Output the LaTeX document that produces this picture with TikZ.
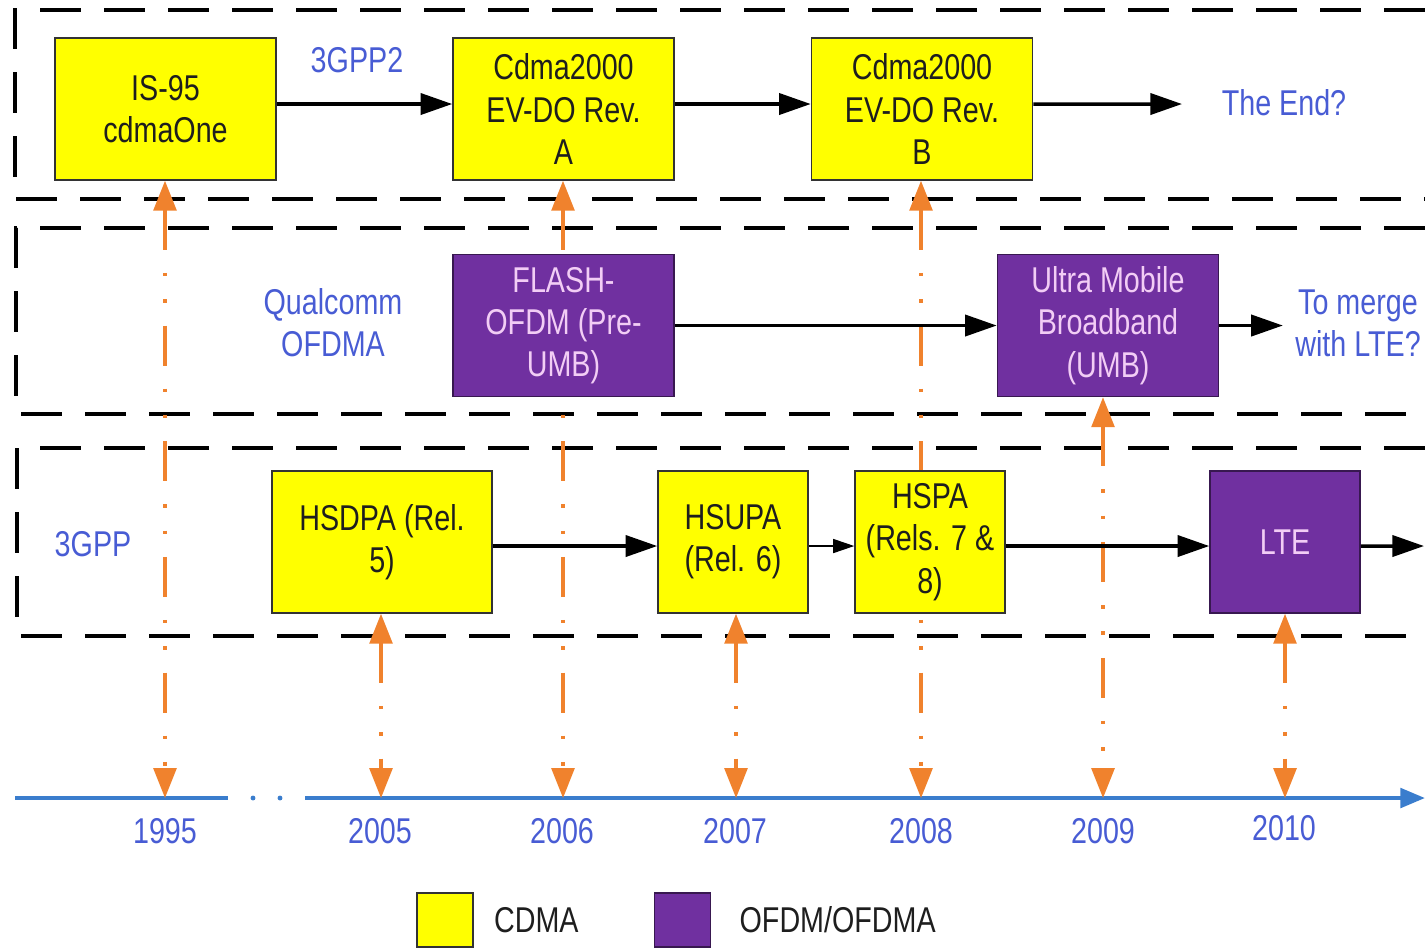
\documentclass[tikz,border=0pt]{standalone}
\usepackage{fontspec}
\setmainfont{Liberation Sans}[FakeStretch=0.8]
\usetikzlibrary{
    arrows.meta,
    positioning,
    backgrounds
}
\usepackage{xcolor}
\definecolor{cdmayellow}{RGB}{255,255,0}
\definecolor{ofdmpurple}{RGB}{112,48,160}
\definecolor{purpletext}{RGB}{242,205,245}
\definecolor{labelblue}{RGB}{72,92,212}
\definecolor{lineblue}{RGB}{58,125,205}
\definecolor{yearorange}{RGB}{240,130,45}
\definecolor{boxtext}{RGB}{30,30,30}
\tikzset{
    % Technology boxes
    cdmabox/.style={
        rectangle,
        draw=black!80,
        line width=0.4pt,
        fill=cdmayellow,
        text=boxtext,
        align=center,
        minimum width=2.21cm,
        minimum height=1.42cm,
        inner sep=1pt
    },
    ofdmbox/.style={
        cdmabox,
        draw=ofdmpurple!50!black,
        fill=ofdmpurple,
        text=purpletext
    },
    % Labels
    bluelabel/.style={
        text=labelblue,
        align=center
    },
    legendtext/.style={
        text=boxtext
    },
    % Lane frames
    laneframe/.style={
        draw=black,
        line width=1.2pt,
        dash pattern=on 11.7pt off 6.5pt
    },
    % Arrows
    arrow/.style={
        -{Triangle[width=6pt,length=9pt]},
        line width=1pt,
        draw=black
    },
    thinarrow/.style={
        -{Triangle[width=4pt,length=6pt]},
        line width=0.35pt,
        draw=black
    },
    yeararrow/.style={
        {Triangle[width=6.5pt,length=8.5pt]}-{Triangle[width=6.5pt,length=8.5pt]},
        line width=0.9pt,
        draw=yearorange,
        dash pattern=on 11.4pt off 6.5pt on 1pt off 6.5pt on 1pt off 6.5pt
    },
    timeline/.style={
        line width=1.2pt,
        draw=lineblue
    }
}

\begin{document}
\begin{tikzpicture}[
    x=0.01cm, y=-0.01cm,
    every node/.style={font=\fontsize{10.2}{12}\selectfont}
]
    \useasboundingbox (0,0) rectangle (1425,947);

    % 3GPP2 lane
    \node[cdmabox] (is95) at (165.5,109) {IS-95\\cdmaOne};
    \node[cdmabox] (evdoA) at (563.5,109) {Cdma2000\\EV-DO Rev.\\A};
    \node[cdmabox] (evdoB) at (922,109) {Cdma2000\\EV-DO Rev.\\B};
    \node[bluelabel] (lbl3gpp2) at (357,60) {3GPP2};
    \node[bluelabel] (theend) at (1284,103) {The End?};
    \coordinate (endtip) at (1182,104);

    % Qualcomm lane
    \node[ofdmbox] (flash) at (563.5,325.5) {FLASH-\\OFDM (Pre-\\UMB)};
    \node[ofdmbox] (umb) at (1108,325.5) {Ultra Mobile\\Broadband\\(UMB)};
    \node[bluelabel] (qualcomm) at (333,323) {Qualcomm\\OFDMA};
    \node[bluelabel] (tomerge) at (1358,323) {To merge\\with LTE?};

    % 3GPP lane
    \node[cdmabox, minimum width=2.2cm] (hsdpa) at (382,542) {HSDPA (Rel.\\5)};
    \node[cdmabox, minimum width=1.5cm] (hsupa) at (733,542) {HSUPA\\(Rel. 6)};
    \node[cdmabox, minimum width=1.5cm] (hspa) at (930,542) {HSPA\\(Rels. 7 \&\\8)};
    \node[ofdmbox, minimum width=1.5cm] (lte) at (1285,542) {LTE};
    \node[bluelabel] (lbl3gpp) at (93,544) {3GPP};
    \coordinate (ltetip) at (1424,546);

    % Years
    \node[bluelabel] (y1995) at (165,831) {1995};
    \node[bluelabel] (y2005) at (380,831) {2005};
    \node[bluelabel] (y2006) at (562,831) {2006};
    \node[bluelabel] (y2007) at (735,831) {2007};
    \node[bluelabel] (y2008) at (921,831) {2008};
    \node[bluelabel] (y2009) at (1103,831) {2009};
    \node[bluelabel] (y2010) at (1284,828) {2010};

    \coordinate (t1995) at (165,798);
    \coordinate (t2005) at (381,798);
    \coordinate (t2006) at (563,798);
    \coordinate (t2007) at (736,798);
    \coordinate (t2008) at (921,798);
    \coordinate (t2009) at (1103,798);
    \coordinate (t2010) at (1285,798);

    % Legend
    \node[cdmabox, minimum width=0.56cm, minimum height=0.54cm] (legcdma) at (445,920) {};
    \node[legendtext, right=0.08cm of legcdma] (legcdmatext) {CDMA};
    \node[ofdmbox, minimum width=0.56cm, minimum height=0.54cm] (legofdm) at (682.5,920) {};
    \node[legendtext, right=0.16cm of legofdm] (legofdmtext) {OFDM/OFDMA};

    % Arrows
    \draw[arrow] ([yshift=0.05cm]is95.east) -- ([yshift=0.05cm]evdoA.west);
    \draw[arrow] ([yshift=0.05cm]evdoA.east) -- ([yshift=0.05cm]evdoB.west);
    \draw[arrow] ([yshift=0.05cm]evdoB.east) -- (endtip);
    \draw[arrow] (flash.east) -- (umb.west);
    \draw[arrow] (umb.east) -- (umb.east -| tomerge.west);
    \draw[arrow] ([yshift=-0.04cm]hsdpa.east) -- ([yshift=-0.04cm]hsupa.west);
    \draw[thinarrow] ([yshift=-0.04cm]hsupa.east) -- ([yshift=-0.04cm]hspa.west);
    \draw[arrow] ([yshift=-0.04cm]hspa.east) -- ([yshift=-0.04cm]lte.west);
    \draw[arrow] ([yshift=-0.04cm]lte.east) -- (ltetip);

    \begin{scope}[on background layer]
        % Lane frames
        \draw[laneframe] (1425,10) -- (15,10) -- (15,199) -- (1425,199);
        \draw[laneframe] (1425,228) -- (16,228) -- (16,414) -- (1425,414);
        \draw[laneframe] (1425,448) -- (17,448) -- (17,636) -- (1425,636);

        % Time line
        \draw[timeline] (15,798) -- (228,798);
        \fill[lineblue] (253,798) circle (0.7pt);
        \fill[lineblue] (280,798) circle (0.7pt);
        \draw[timeline, -{Triangle[width=5.5pt,length=7pt]}] (305,798) -- (1425,798);

        % Year links
        \draw[yeararrow] (t1995 |- is95.south) -- (t1995);
        \draw[yeararrow] (t2005 |- hsdpa.south) -- (t2005);
        \draw[yeararrow] (t2006 |- evdoA.south) -- (t2006);
        \draw[yeararrow] (t2007 |- hsupa.south) -- (t2007);
        \draw[yeararrow] (t2008 |- evdoB.south) -- (t2008);
        \draw[yeararrow] (t2009 |- umb.south) -- (t2009);
        \draw[yeararrow] (t2010 |- lte.south) -- (t2010);
    \end{scope}

\end{tikzpicture}
\end{document}
